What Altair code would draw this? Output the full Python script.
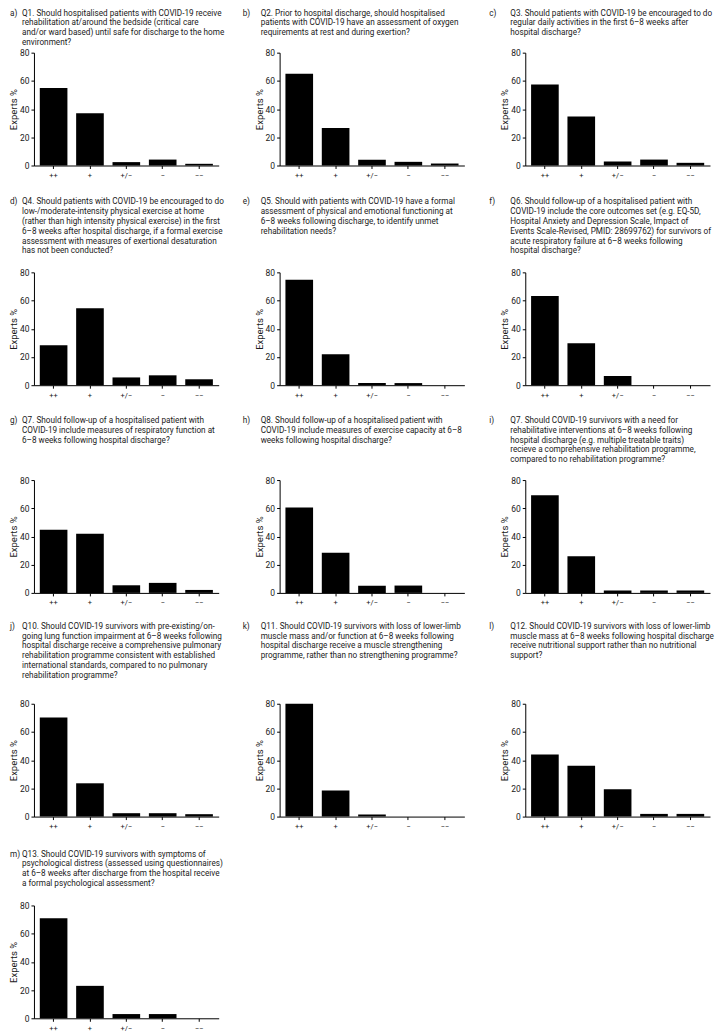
import altair as alt
import pandas as pd

categories = ["++", "+", "+/\u2212", "\u2212", "\u2212\u2212"]

letters = ["a)", "b)", "c)", "d)", "e)", "f)", "g)", "h)", "i)", "j)", "k)", "l)", "m)"]

titles = [
    ["Q1. Should hospitalised patients with COVID-19 receive",
     "rehabilitation at/around the bedside (critical care",
     "and/or ward based) until safe for discharge to the home",
     "environment?"],
    ["Q2. Prior to hospital discharge, should hospitalised",
     "patients with COVID-19 have an assessment of oxygen",
     "requirements at rest and during exertion?"],
    ["Q3. Should patients with COVID-19 be encouraged to do",
     "regular daily activities in the first 6\u20138 weeks after",
     "hospital discharge?"],
    ["Q4. Should patients with COVID-19 be encouraged to do",
     "low-/moderate-intensity physical exercise at home",
     "(rather than high intensity physical exercise) in the first",
     "6\u20138 weeks after hospital discharge, if a formal exercise",
     "assessment with measures of exertional desaturation",
     "has not been conducted?"],
    ["Q5. Should with patients with COVID-19 have a formal",
     "assessment of physical and emotional functioning at",
     "6\u20138 weeks following discharge, to identify unmet",
     "rehabilitation needs?"],
    ["Q6. Should follow-up of a hospitalised patient with",
     "COVID-19 include the core outcomes set (e.g. EQ-5D,",
     "Hospital Anxiety and Depression Scale, Impact of",
     "Events Scale-Revised, PMID: 28699762) for survivors of",
     "acute respiratory failure at 6\u20138 weeks following",
     "hospital discharge?"],
    ["Q7. Should follow-up of a hospitalised patient with",
     "COVID-19 include measures of respiratory function at",
     "6\u20138 weeks following hospital discharge?"],
    ["Q8. Should follow-up of a hospitalised patient with",
     "COVID-19 include measures of exercise capacity at 6\u20138",
     "weeks following hospital discharge?"],
    ["Q7. Should COVID-19 survivors with a need for",
     "rehabilitative interventions at 6\u20138 weeks following",
     "hospital discharge (e.g. multiple treatable traits)",
     "recieve a comprehensive rehabilitation programme,",
     "compared to no rehabilitation programme?"],
    ["Q10. Should COVID-19 survivors with pre-existing/on-",
     "going lung function impairment at 6\u20138 weeks following",
     "hospital discharge receive a comprehensive pulmonary",
     "rehabilitation programme consistent with established",
     "international standards, compared to no pulmonary",
     "rehabilitation programme?"],
    ["Q11. Should COVID-19 survivors with loss of lower-limb",
     "muscle mass and/or function at 6\u20138 weeks following",
     "hospital discharge receive a muscle strengthening",
     "programme, rather than no strengthening programme?"],
    ["Q12. Should COVID-19 survivors with loss of lower-limb",
     "muscle mass at 6\u20138 weeks following hospital discharge",
     "receive nutritional support rather than no nutritional",
     "support?"],
    ["Q13. Should COVID-19 survivors with symptoms of",
     "psychological distress (assessed using questionnaires)",
     "at 6\u20138 weeks after discharge from the hospital receive",
     "a formal psychological assessment?"],
]

q1 = [55.0, 37.0, 2.4, 4.2, 1.2]
q2 = [65.0, 26.5, 4.0, 2.6, 1.4]
q3 = [57.5, 34.7, 2.8, 4.2, 1.9]
q4 = [28.3, 54.6, 5.5, 7.0, 4.2]
q5 = [74.8, 21.9, 1.5, 1.5, 0.0]
q6 = [63.2, 29.7, 6.5, 0.0, 0.0]
q7 = [44.7, 41.9, 5.4, 7.1, 2.1]
q8 = [60.6, 28.4, 5.0, 5.2, 0.0]
q9 = [69.3, 26.0, 1.7, 1.7, 1.7]
q10 = [70.2, 23.6, 2.4, 2.4, 1.7]
q11 = [80.0, 18.5, 1.4, 0.0, 0.0]
q12 = [44.0, 36.0, 19.4, 1.9, 1.9]
q13 = [71.0, 23.0, 3.0, 3.0, 0.0]
values = [q1, q2, q3, q4, q5, q6, q7, q8, q9, q10, q11, q12, q13]

FONT = "Roboto"
TXT = "#1a1a1a"
W = 185
PLOT_H = 113
row_title_space = [43, 87, 75, 91, 69]
row_title_y = [0, 13, 12, 10, 14]
col_label_x = [-24, -37, -36]
col_body_x = [-12, -19, -15]


def panel(i):
    r, c = divmod(i, 3)
    ts = row_title_space[r]
    H = ts + PLOT_H
    df = pd.DataFrame({"cat": categories, "val": values[i]})
    bars = alt.Chart(df).mark_bar(color="black").encode(
        x=alt.X("cat:N", sort=categories,
                scale=alt.Scale(paddingInner=0.24, paddingOuter=0.16),
                axis=alt.Axis(title=None, labelAngle=0, labelFont=FONT, labelFontSize=7.5,
                              labelColor=TXT, tickSize=3, tickColor="black",
                              domainColor="black", labelPadding=3)),
        y=alt.Y("val:Q", scale=alt.Scale(domain=[0, 80], range=[H, ts]),
                axis=alt.Axis(values=[0, 20, 40, 60, 80], title="Experts %", grid=False,
                              labelFont=FONT, labelFontSize=8.5, labelColor=TXT,
                              titleFont=FONT, titleFontSize=9.5, titleFontWeight="normal",
                              titleColor=TXT, tickSize=3, tickColor="black",
                              domainColor="black", labelPadding=2, titlePadding=1)),
    )
    one = pd.DataFrame({"k": [0]})
    ty = row_title_y[r]
    label = alt.Chart(one).mark_text(
        text=letters[i], align="left", baseline="top", font=FONT, fontSize=8.2, color=TXT
    ).encode(x=alt.value(col_label_x[c]), y=alt.value(ty))
    body = alt.Chart(one).mark_text(
        text=titles[i], align="left", baseline="top", font=FONT, fontSize=8.2,
        lineHeight=9.8, color=TXT
    ).encode(x=alt.value(col_body_x[c]), y=alt.value(ty))
    return alt.layer(bars, label, body).properties(width=W, height=H)


panels = [panel(i) for i in range(13)]

chart = alt.concat(*panels, columns=3, spacing={"row": 20, "column": 61},
                   bounds="flush", align="each").properties(
    padding=0
).configure_view(stroke=None)

chart.save("out.html", embed_options={"renderer": "svg", "actions": False})
